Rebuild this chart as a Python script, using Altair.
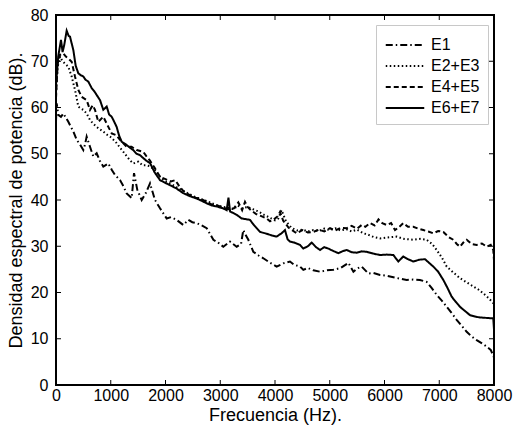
import altair as alt
import pandas as pd

# Series: (frequency Hz, PSD dB)
E1 = [(0,57),(12,60.9),(42,58.4),(90,58),(134,58.7),(180,57.8),(225,56.9),(317,54.8),(378,53),(440,52),
      (499,50.8),(530,52),(560,53.7),(621,51.5),(682,49.4),(743,50.1),(800,48.5),(864,47.2),(956,47.9),(1020,46.5),
      (1078,45.4),(1169,44.3),(1230,43),(1291,41.4),(1382,40.4),(1425,45.8),(1485,42.2),(1565,40),(1640,41.5),(1717,43.6),
      (1808,40),(1900,38.2),(2022,36),(2100,36.3),(2204,35.7),(2325,34.6),(2416,35.7),(2490,35.2),(2569,35),(2660,34.5),
      (2752,33.9),(2874,31.4),(2960,30.8),(3056,29.9),(3178,31),(3300,29.9),(3380,30.5),(3421,33.5),(3460,32.5),(3513,31.4),
      (3604,28.8),(3700,28),(3787,27.4),(3900,26.5),(4030,25.6),(4152,26.3),(4274,26.7),(4350,26),(4457,25.6),(4517,24.9),
      (4600,25.3),(4700,24.8),(4822,24.5),(4950,24.8),(5065,24.9),(5200,25.3),(5340,26.4),(5432,24.5),(5500,25.2),(5584,25.6),
      (5706,24.1),(5800,24.2),(5918,23.8),(6050,23.6),(6162,23.3),(6280,23),(6405,22.7),(6520,22.8),(6648,22.7),(6770,22.3),
      (6860,21),(6953,19.5),(7050,18.2),(7136,16.9),(7230,15.5),(7318,14.1),(7410,12.8),(7501,11.5),(7590,10.5),(7684,9.7),
      (7780,9),(7866,8.3),(7940,7.6),(8000,6)]

E2_E3 = [(0,63),(30,68.8),(73,71),(120,70),(164,69.5),(225,68.8),(286,66.7),(347,63.8),(408,60.2),(450,59.8),
         (499,59.5),(560,58.7),(621,57.3),(680,56.5),(743,55.8),(800,55.3),(864,54.8),(920,54.2),(986,53.7),(1050,53),
         (1108,52.3),(1170,51.3),(1230,50.4),(1290,49.5),(1351,48.6),(1412,47.9),(1503,48.3),(1580,47.5),(1650,47.5),(1717,47.3),
         (1800,46.5),(1900,45),(2000,44),(2100,43.5),(2200,42.8),(2320,42),(2450,41.2),(2550,40.6),(2650,40.2),(2750,39.8),
         (2850,39.3),(2950,38.8),(3050,38.5),(3150,38.3),(3250,38),(3320,38.8),(3400,38.2),(3500,38.5),(3600,38),(3700,37.5),
         (3800,36.8),(3900,36.2),(4000,35.6),(4060,36),(4120,37.8),(4200,35.4),(4300,34),(4400,33.4),(4500,33.6),(4600,33.2),
         (4700,33.5),(4800,33.3),(4900,33.8),(5000,33.5),(5100,33.9),(5200,33.4),(5300,33.7),(5400,33.2),(5500,33.6),(5615,32.8),
         (5700,32.5),(5800,32),(5918,31.7),(6050,31.9),(6222,32.1),(6350,31.6),(6526,31.4),(6650,31.6),(6770,31.4),(6870,30.5),
         (6953,29.2),(7050,27.5),(7136,25.6),(7250,24.4),(7379,23.1),(7500,22.2),(7623,21.3),(7720,20.6),(7805,19.8),(7900,18.8),
         (7987,17.7),(8000,17)]

E4_E5 = [(0,62),(30,69.5),(73,71.4),(134,71.7),(180,71),(225,70.6),(286,69.9),(347,66.7),(408,63.8),(469,62.3),
         (560,61.6),(621,59.5),(670,60.5),(712,59.5),(773,56.9),(864,58),(956,55.8),(1017,54.4),(1100,54),(1169,53),
         (1291,51.5),(1380,51.5),(1474,50.8),(1595,50.4),(1650,49.5),(1717,48.5),(1800,47),(1900,45),(2000,44.5),(2100,44),
         (2180,44.3),(2250,43),(2320,42),(2450,41),(2550,40.5),(2650,40.2),(2750,39.6),(2850,39),(2950,38.8),(3050,38.4),
         (3150,38),(3250,38.2),(3330,39.5),(3400,37.8),(3452,39.6),(3500,38.5),(3560,37.8),(3650,37),(3750,36.5),(3850,36),
         (3909,35.4),(3980,35.8),(4050,36.5),(4091,37.4),(4150,35.5),(4250,34),(4396,32.8),(4500,33.5),(4600,33),(4700,33.1),
         (4800,33.6),(4900,33.2),(5005,33.9),(5100,33.4),(5200,34),(5310,33.9),(5400,34.4),(5500,33.8),(5584,34.6),(5650,34.2),
         (5736,35),(5820,34.5),(5890,35.8),(5960,35),(6040,34.6),(6120,35),(6192,33.5),(6270,34.2),(6343,35),(6430,34.2),
         (6526,34.2),(6620,33.8),(6709,33.5),(6800,33.2),(6892,32.8),(6980,33.3),(7075,33.1),(7170,32),(7258,31.4),(7320,30.5),
         (7379,29.9),(7440,30.8),(7501,31.4),(7590,30.5),(7684,30.3),(7780,30.6),(7866,29.9),(7940,30.3),(7987,29.2),(8000,27)]

E6_E7 = [(0,65),(40,71),(91,74.6),(120,72),(150,73.5),(195,76.6),(230,75.5),(256,75.3),(317,72.4),(360,69),
         (408,67.4),(450,67),(499,66.7),(540,66),(590,65.6),(652,64.2),(700,63.5),(743,62.7),(804,61.6),(864,59.5),
         (926,60.2),(970,58.5),(1017,58),(1060,57),(1108,55.8),(1150,54),(1200,52.6),(1291,51.9),(1350,51.3),(1412,50.8),
         (1470,50),(1534,49.7),(1600,49),(1650,48.5),(1717,48),(1800,46),(1900,44.3),(1980,43.8),(2082,43.2),(2200,42.5),
         (2320,41.5),(2450,40.8),(2530,40.5),(2630,40),(2750,39.3),(2850,38.8),(2935,38.6),(3050,38.2),(3117,37.8),(3150,40.5),
         (3180,37.5),(3235,37.2),(3300,36.8),(3391,36),(3450,35.9),(3543,35.7),(3620,34.5),(3726,33.1),(3850,32.7),(3950,32.3),
         (4030,32.1),(4120,32.8),(4182,33.5),(4230,31.5),(4274,31),(4350,30.8),(4457,30.3),(4517,29.5),(4600,30),(4670,30.8),
         (4750,29.8),(4822,29.2),(4900,29.8),(4974,29.5),(5060,29),(5157,28.5),(5230,28.9),(5310,29.2),(5400,28.7),(5493,28.6),
         (5580,28.9),(5676,28.8),(5800,28.4),(5918,28.1),(6040,28.2),(6162,28.1),(6252,26.7),(6343,27.8),(6430,27.2),(6526,26.7),
         (6640,27.1),(6740,27.2),(6892,25.6),(6980,24.5),(7075,22.7),(7150,21),(7227,19.1),(7300,18),(7379,16.9),(7470,16),
         (7562,15.1),(7650,14.8),(7744,14.6),(7870,14.5),(7987,14.4),(8000,12)]

series_names = ["E1", "E2+E3", "E4+E5", "E6+E7"]
series_data = [E1, E2_E3, E4_E5, E6_E7]
dash_styles = [[7, 3, 1.5, 3], [1.5, 2.5], [5, 3], [1, 0]]

x_ticks = [0, 1000, 2000, 3000, 4000, 5000, 6000, 7000, 8000]
y_ticks = [0, 10, 20, 30, 40, 50, 60, 70, 80]

rows = []
for name, pts in zip(series_names, series_data):
    for order, (f, v) in enumerate(pts):
        rows.append({"serie": name, "f": f, "v": v, "o": order})
df = pd.DataFrame(rows)
xt = pd.DataFrame({"f": x_ticks})
yt = pd.DataFrame({"v": y_ticks})

FONT = "Liberation Sans"
W, H = 438, 370
xscale = alt.Scale(domain=[0, 8000], nice=False, zero=False)
yscale = alt.Scale(domain=[0, 80], nice=False)

xaxis = alt.Axis(values=x_ticks, format="d", ticks=False, domain=False, grid=False,
                 title="Frecuencia (Hz).", labelFontSize=16, titleFontSize=18,
                 labelPadding=2, titlePadding=3, labelFont=FONT, titleFont=FONT,
                 titleFontWeight="normal", labelColor="black", titleColor="black",
                 labelFlush=False)
yaxis = alt.Axis(values=y_ticks, format="d", ticks=False, domain=False, grid=False,
                 title="Densidad espectral de potencia (dB).", labelFontSize=16,
                 titleFontSize=18, labelPadding=8, titlePadding=5, labelFont=FONT,
                 titleFont=FONT, titleFontWeight="normal", labelColor="black",
                 titleColor="black", labelFlush=False)

lines = alt.Chart(df).mark_line(color="black", strokeWidth=2, clip=True).encode(
    x=alt.X("f:Q", scale=xscale, axis=xaxis),
    y=alt.Y("v:Q", scale=yscale, axis=yaxis),
    strokeDash=alt.StrokeDash("serie:N",
        scale=alt.Scale(domain=series_names, range=dash_styles),
        legend=alt.Legend(title=None, orient="none", legendX=320, legendY=10,
                          symbolType="M-1.75,0H1.75", symbolSize=484, symbolStrokeWidth=2,
                          symbolStrokeColor="black", symbolOffset=9, labelOffset=14,
                          labelFontSize=16, labelFont=FONT, labelColor="black",
                          strokeColor="#c8c8c8", fillColor="white", padding=8,
                          rowPadding=1, labelLimit=200)),
    order="o:Q",
)

tick_len = 5
bottom = alt.Chart(xt).mark_rule(color="black", strokeWidth=1).encode(
    x=alt.X("f:Q", scale=xscale, axis=xaxis), y=alt.value(H), y2=alt.value(H - tick_len))
top = alt.Chart(xt).mark_rule(color="black", strokeWidth=1).encode(
    x=alt.X("f:Q", scale=xscale, axis=xaxis), y=alt.value(0), y2=alt.value(tick_len))
left = alt.Chart(yt).mark_rule(color="black", strokeWidth=1).encode(
    y=alt.Y("v:Q", scale=yscale, axis=yaxis), x=alt.value(0), x2=alt.value(tick_len))
right = alt.Chart(yt).mark_rule(color="black", strokeWidth=1).encode(
    y=alt.Y("v:Q", scale=yscale, axis=yaxis), x=alt.value(W), x2=alt.value(W - tick_len))

chart = alt.layer(lines, bottom, top, left, right).properties(
    width=W, height=H,
    autosize=alt.AutoSizeParams(type="none"),
    padding={"left": 56, "top": 15, "right": 19, "bottom": 49},
    background="white",
).configure_view(stroke="black", strokeWidth=2)

chart.save("out.html", embed_options={"renderer": "svg", "actions": False})
